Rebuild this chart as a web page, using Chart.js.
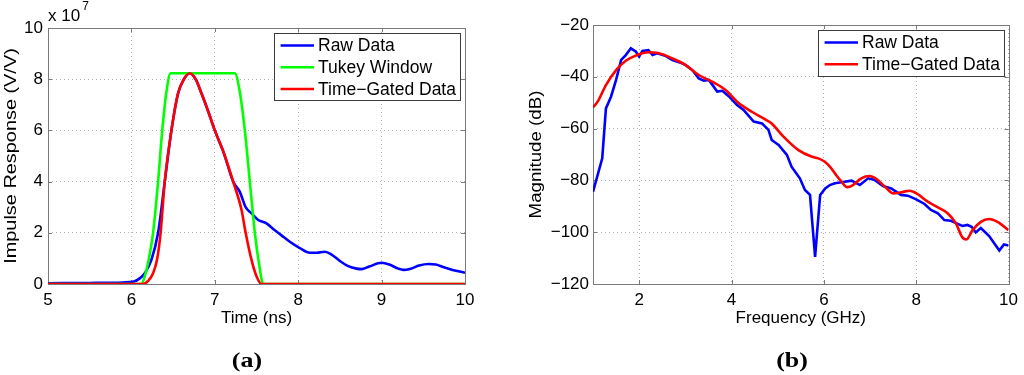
<!DOCTYPE html>
<html><head><meta charset="utf-8">
<script src="https://cdn.jsdelivr.net/npm/chart.js@4/dist/chart.umd.min.js"></script>
<style>
html,body{margin:0;padding:0;background:#fff;}
#wrap{position:relative;width:1024px;height:375px;overflow:hidden;background:#fff;}
canvas{position:absolute;top:0;}
#ca{left:0}
#cb{left:512px}
</style></head><body>
<div id="wrap"><canvas id="ca" width="512" height="375"></canvas><canvas id="cb" width="512" height="375"></canvas></div>
<script>
// ---------- Panel (a): impulse response (values in units of 1e7 V/V) ----------
const rawTime = [5.0,5.5,5.9,6.03,6.10,6.16,6.24,6.32,6.40,6.48,6.56,6.63,6.70,6.77,6.84,6.92,7.00,7.11,7.22,7.30,7.37,7.44,7.52,7.62,7.70,7.80,7.90,8.02,8.14,8.22,8.32,8.40,8.50,8.60,8.70,8.76,8.85,9.00,9.10,9.20,9.26,9.35,9.45,9.56,9.65,9.75,9.85,10.0];
const rawImpulse = [0.03,0.04,0.06,0.10,0.22,0.42,0.94,2.0,4.0,6.0,7.45,8.0,8.23,8.0,7.45,6.75,6.0,5.1,4.0,3.6,3.0,2.76,2.5,2.37,2.15,1.9,1.65,1.4,1.22,1.22,1.26,1.15,0.9,0.7,0.6,0.58,0.68,0.83,0.75,0.6,0.55,0.6,0.72,0.78,0.76,0.65,0.55,0.44];
const tukeyTime = [5.0,6.12,6.16,6.21,6.26,6.32,6.37,6.42,6.47,7.24,7.30,7.36,7.42,7.48,7.53,7.58,10.0];
const tukeyWindow = [0,0,0.3,1.0,2.0,4.0,6.0,7.5,8.23,8.23,7.5,6.0,4.0,2.0,0.8,0,0];
const gatedTime = [5.0,6.14,6.20,6.26,6.31,6.35,6.40,6.48,6.56,6.63,6.70,6.77,6.84,6.92,7.00,7.11,7.22,7.32,7.37,7.44,7.50,7.56,10.0];
const gatedImpulse = [0,0,0.12,0.42,1.0,2.0,4.0,6.0,7.45,8.0,8.23,8.0,7.45,6.75,6.0,5.1,4.0,2.9,2.0,0.94,0.3,0,0];
const timeTicks = [5,6,7,8,9,10];
const impulseTicks = [0,2,4,6,8,10];

// ---------- Panel (b): magnitude spectrum ----------
const rawFreq = [1.00,1.20,1.28,1.39,1.50,1.61,1.71,1.82,1.93,2.00,2.07,2.20,2.29,2.39,2.58,2.72,2.93,3.00,3.15,3.29,3.40,3.51,3.69,3.80,3.94,4.12,4.26,4.48,4.66,4.80,4.87,5.02,5.20,5.30,5.48,5.59,5.70,5.81,5.92,6.03,6.13,6.24,6.42,6.60,6.78,6.96,7.10,7.28,7.46,7.67,7.82,8.00,8.18,8.32,8.47,8.61,8.75,8.90,9.00,9.11,9.20,9.29,9.40,9.58,9.80,9.90,10.0];
const rawMag = [-84.4,-71.5,-52.2,-47.7,-41.2,-33.5,-31.6,-29.0,-30.3,-32.2,-30.0,-29.7,-31.6,-30.9,-32.0,-33.5,-34.8,-35.4,-37.4,-40.6,-41.5,-41.2,-45.7,-45.4,-47.5,-50.9,-52.8,-57.3,-58.0,-60.5,-64.4,-66.3,-70.2,-74.7,-79.2,-83.7,-85.6,-109.5,-85.6,-83.1,-81.8,-81.1,-80.6,-80.1,-81.8,-79.2,-79.8,-82.2,-83.1,-85.6,-85.9,-87.3,-89.1,-91.4,-92.7,-95.3,-95.6,-96.8,-97.6,-97.2,-97.9,-100.1,-98.4,-101.5,-107.1,-104.7,-105.1];
const gatedFreq = [1.00,1.10,1.28,1.50,1.71,1.93,2.18,2.43,2.72,3.00,3.29,3.58,3.87,4.12,4.44,4.73,4.87,5.12,5.45,5.73,5.88,6.02,6.13,6.24,6.35,6.51,6.63,6.81,6.99,7.14,7.32,7.50,7.67,7.86,8.03,8.25,8.47,8.68,8.86,9.00,9.09,9.22,9.40,9.58,9.76,10.0];
const gatedMag = [-51.8,-49.6,-43.2,-37.4,-33.8,-31.8,-30.5,-30.9,-32.9,-35.4,-39.3,-41.9,-45.1,-49.6,-53.5,-56.4,-58.0,-63.0,-68.3,-70.8,-71.5,-72.8,-74.7,-77.3,-79.8,-82.6,-81.8,-79.2,-78.3,-79.5,-82.4,-85.0,-84.6,-84.0,-85.3,-88.2,-90.4,-92.7,-96.6,-102.0,-102.8,-99.2,-96.0,-94.9,-96.0,-99.2];
const freqTicks = [2,4,6,8,10];
const magTicks = [-120,-100,-80,-60,-40,-20];

const pts = (xs, ys) => xs.map((x, i) => ({x, y: ys[i]}));
const FONT = '"Liberation Sans", Arial, Helvetica, sans-serif';

const matlabFrame = {
  id: 'matlabFrame',
  beforeDatasetsDraw(chart) {
    const {ctx, chartArea: a, scales} = chart;
    ctx.save();
    ctx.strokeStyle = '#7a7a7a';
    ctx.lineWidth = 1;
    ctx.strokeRect(Math.round(a.left) + 0.5, Math.round(a.top) + 0.5, Math.round(a.right - a.left), Math.round(a.bottom - a.top));
    const tl = 4;
    ctx.beginPath();
    scales.x.ticks.forEach(t => {
      const p = Math.round(scales.x.getPixelForValue(t.value)) + 0.5;
      ctx.moveTo(p, a.bottom); ctx.lineTo(p, a.bottom - tl);
      ctx.moveTo(p, a.top); ctx.lineTo(p, a.top + tl);
    });
    scales.y.ticks.forEach(t => {
      const p = Math.round(scales.y.getPixelForValue(t.value)) + 0.5;
      ctx.moveTo(a.left, p); ctx.lineTo(a.left + tl, p);
      ctx.moveTo(a.right, p); ctx.lineTo(a.right - tl, p);
    });
    ctx.stroke();
    ctx.restore();
  },
  afterDraw(chart, args, o) {
    const {ctx, chartArea: a} = chart;
    ctx.save();
    ctx.fillStyle = '#000';
    ctx.font = '17px ' + FONT;
    ctx.textAlign = 'center';
    ctx.textBaseline = 'middle';
    ctx.fillText(o.xTitle, (a.left + a.right) / 2, o.xTitleY);
    ctx.save();
    ctx.translate(o.yTitleX, (a.top + a.bottom) / 2);
    ctx.rotate(-Math.PI / 2);
    ctx.scale(o.yTitleStretch, 1);
    ctx.fillText(o.yTitle, 0, 0);
    ctx.restore();
    if (o.exponent) {
      ctx.textAlign = 'left';
      ctx.font = '17px ' + FONT;
      ctx.fillText('x 10', a.left, 16);
      const w = ctx.measureText('x 10').width;
      ctx.font = '12px ' + FONT;
      ctx.fillText(o.exponent, a.left + w + 2, 7);
    }
    ctx.save();
    ctx.textAlign = 'center';
    ctx.textBaseline = 'alphabetic';
    ctx.font = 'bold 22px "Liberation Serif", "Times New Roman", serif';
    ctx.translate(o.captionX, o.captionY);
    ctx.scale(1.18, 1);
    ctx.fillText(o.caption, 0, 0);
    ctx.restore();
    // legend
    ctx.textBaseline = 'middle';
    ctx.font = '17.5px ' + FONT;
    const ds = chart.data.datasets;
    const tw = Math.max(...ds.map(d => ctx.measureText(d.label).width));
    const rowH = 21.7;
    const w = Math.round(tw + 48), h = Math.round(ds.length * rowH + 2.3);
    const bx = Math.round(a.right - 5 - w), by = Math.round(a.top + 5);
    ctx.fillStyle = '#fff';
    ctx.fillRect(bx, by, w, h);
    ctx.strokeStyle = '#3c3c3c';
    ctx.lineWidth = 1;
    ctx.strokeRect(bx + 0.5, by + 0.5, w, h);
    ds.forEach((d, i) => {
      const cy = by + 12.6 + i * rowH;
      ctx.strokeStyle = d.borderColor;
      ctx.lineWidth = 2.5;
      ctx.beginPath();
      ctx.moveTo(bx + 6.6, cy); ctx.lineTo(bx + 40, cy);
      ctx.stroke();
      ctx.fillStyle = '#000';
      ctx.textAlign = 'left';
      ctx.fillText(d.label, bx + 44, cy + 1);
    });
    ctx.restore();
  }
};

function axis(min, max, ticks, fitProp, fitVal, pad, fmt) {
  return {
    type: 'linear', min, max,
    afterBuildTicks: s => { s.ticks = ticks.map(v => ({value: v})); },
    afterFit: s => { s[fitProp] = fitVal; },
    grid: {color: '#b4b4b4', lineWidth: 1, drawTicks: false},
    border: {display: false, dash: [1, 3]},
    ticks: {color: '#000', font: {family: FONT, size: 17}, padding: pad, maxRotation: 0, autoSkip: false,
            callback: fmt || (v => String(v))}
  };
}

const lineDs = (label, data, color, order, smooth) => ({
  label, data, borderColor: color, backgroundColor: color, borderWidth: 2.6,
  pointRadius: 0, fill: false, order,
  cubicInterpolationMode: smooth ? 'monotone' : 'default', tension: 0
});

new Chart(document.getElementById('ca'), {
  type: 'line',
  data: {datasets: [
    lineDs('Raw Data', pts(rawTime, rawImpulse), '#0000ff', 2, true),
    lineDs('Tukey Window', pts(tukeyTime, tukeyWindow), '#00ff00', 1, true),
    lineDs('Time\u2212Gated Data', pts(gatedTime, gatedImpulse), '#ff0000', 0, true)
  ]},
  options: {
    responsive: false, animation: false, devicePixelRatio: 1,
    layout: {padding: {left: 0, top: 28, right: 47, bottom: 0}},
    scales: {
      x: axis(5, 10, timeTicks, 'height', 91, 6),
      y: axis(0, 10, impulseTicks, 'width', 48, 5)
    },
    plugins: {
      legend: {display: false}, tooltip: {enabled: false},
      matlabFrame: {xTitle: 'Time (ns)', xTitleY: 318, yTitle: 'Impulse Response (V/V)', yTitleX: 11, yTitleStretch: 1.17,
                    exponent: '7', caption: '(a)', captionX: 247, captionY: 367}
    }
  },
  plugins: [matlabFrame]
});

new Chart(document.getElementById('cb'), {
  type: 'line',
  data: {datasets: [
    lineDs('Raw Data', pts(rawFreq, rawMag), '#0000ff', 1, false),
    lineDs('Time\u2212Gated Data', pts(gatedFreq, gatedMag), '#ff0000', 0, true)
  ]},
  options: {
    responsive: false, animation: false, devicePixelRatio: 1,
    layout: {padding: {left: 0, top: 25, right: 13, bottom: 0}},
    scales: {
      x: axis(1, 10, freqTicks, 'height', 91, 6),
      y: axis(-120, -20, magTicks, 'width', 81, 4, v => String(v).replace('-', '\u2212'))
    },
    plugins: {
      legend: {display: false}, tooltip: {enabled: false},
      matlabFrame: {xTitle: 'Frequency (GHz)', xTitleY: 318, yTitle: 'Magnitude (dB)', yTitleX: 24, yTitleStretch: 1.1,
                    exponent: '', caption: '(b)', captionX: 280, captionY: 367}
    }
  },
  plugins: [matlabFrame]
});
</script>
</body></html>
